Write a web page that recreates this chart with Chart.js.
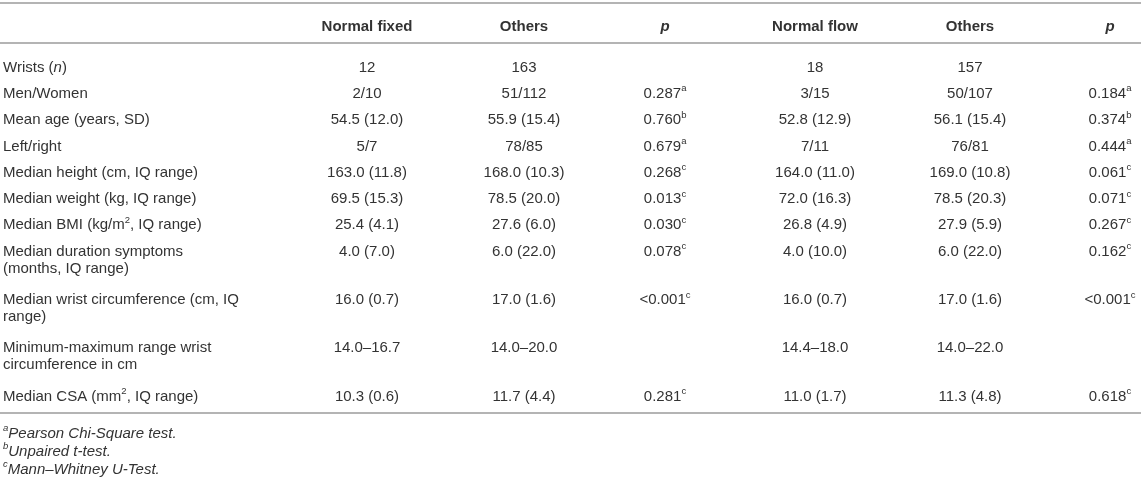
<!DOCTYPE html>
<html>
<head>
<meta charset="utf-8">
<script src="https://cdn.jsdelivr.net/npm/chart.js@4.4.1/dist/chart.umd.min.js"></script>
<style>
    html, body { margin: 0; padding: 0; background: #fff; }
    #wrap { width: 1143px; height: 483px; position: relative; }
</style>
</head>
<body>
<div id="wrap"><canvas id="tableChart"></canvas></div>
<script>
// Table content (^x^ = superscript, *x* = italic)
const columnHeaders = ['Normal fixed', 'Others', '*p*', 'Normal flow', 'Others', '*p*'];

const rowLabels = [
    'Wrists (*n*)',
    'Men/Women',
    'Mean age (years, SD)',
    'Left/right',
    'Median height (cm, IQ range)',
    'Median weight (kg, IQ range)',
    'Median BMI (kg/m^2^, IQ range)',
    'Median duration symptoms\n(months, IQ range)',
    'Median wrist circumference (cm, IQ\nrange)',
    'Minimum-maximum range wrist\ncircumference in cm',
    'Median CSA (mm^2^, IQ range)'
];

const normalFixed = ['12', '2/10', '54.5 (12.0)', '5/7', '163.0 (11.8)', '69.5 (15.3)', '25.4 (4.1)', '4.0 (7.0)', '16.0 (0.7)', '14.0–16.7', '10.3 (0.6)'];
const othersFixed = ['163', '51/112', '55.9 (15.4)', '78/85', '168.0 (10.3)', '78.5 (20.0)', '27.6 (6.0)', '6.0 (22.0)', '17.0 (1.6)', '14.0–20.0', '11.7 (4.4)'];
const pFixed = ['', '0.287^a^', '0.760^b^', '0.679^a^', '0.268^c^', '0.013^c^', '0.030^c^', '0.078^c^', '<0.001^c^', '', '0.281^c^'];
const normalFlow = ['18', '3/15', '52.8 (12.9)', '7/11', '164.0 (11.0)', '72.0 (16.3)', '26.8 (4.9)', '4.0 (10.0)', '16.0 (0.7)', '14.4–18.0', '11.0 (1.7)'];
const othersFlow = ['157', '50/107', '56.1 (15.4)', '76/81', '169.0 (10.8)', '78.5 (20.3)', '27.9 (5.9)', '6.0 (22.0)', '17.0 (1.6)', '14.0–22.0', '11.3 (4.8)'];
const pFlow = ['', '0.184^a^', '0.374^b^', '0.444^a^', '0.061^c^', '0.071^c^', '0.267^c^', '0.162^c^', '<0.001^c^', '', '0.618^c^'];

const footnotes = ['^a^Pearson Chi-Square test.', '^b^Unpaired t-test.', '^c^Mann–Whitney U-Test.'];

// Layout (in scale units, 1 unit = 1 px of the page)
const PAGE_W = 1143;
const PAGE_H = 483;
const LABEL_X = 3;
const COL_CENTERS = [367, 524, 665, 815, 970, 1110];
const HEADER_Y = 25;
const RULES_Y = [3, 43, 413];
const FIRST_ROW_TOP = 53;
const ROW_H = 26.3;
const WRAP_LINE_H = 17;
const WRAP_EXTRA_H = 22;
const FOOT_Y = [432, 450, 468];
const TEXT_DY = 1.5;

const TEXT_COLOR = '#333333';
const RULE_COLOR = '#b4b4b4';
const FONT_SIZE = 15;
const SUP_SIZE = 9.5;
const FONT_FAMILY = '"Liberation Sans", Arial, Helvetica, sans-serif';

const columns = [normalFixed, othersFixed, pFixed, normalFlow, othersFlow, pFlow];

// split "abc^x^ *d*" into styled pieces
function parseRich(text) {
    const parts = text.split(/(\^[^^]*\^|\*[^*]*\*)/).filter(s => s.length);
    return parts.map(s => {
        if (s[0] === '^') return { t: s.slice(1, -1), sup: true, it: false };
        if (s[0] === '*') return { t: s.slice(1, -1), sup: false, it: true };
        return { t: s, sup: false, it: false };
    });
}

function fontFor(seg, bold, italic) {
    const size = seg.sup ? SUP_SIZE : FONT_SIZE;
    return (italic || seg.it ? 'italic ' : '') + (bold ? 'bold ' : '') + size + 'px ' + FONT_FAMILY;
}

function drawRich(ctx, text, px, py, align, bold, italic) {
    const segs = parseRich(text);
    let total = 0;
    segs.forEach(seg => {
        ctx.font = fontFor(seg, bold, italic);
        seg.w = ctx.measureText(seg.t).width;
        total += seg.w;
    });
    let cx = align === 'center' ? px - total / 2 : px;
    segs.forEach(seg => {
        ctx.font = fontFor(seg, bold, italic);
        ctx.fillText(seg.t, cx, (seg.sup ? py - 5 : py) + TEXT_DY);
        cx += seg.w;
    });
}

// row top positions, taller rows for wrapped labels
function rowTops() {
    const tops = [];
    let top = FIRST_ROW_TOP;
    rowLabels.forEach(label => {
        tops.push(top);
        const lines = label.split('\n').length;
        top += ROW_H + (lines - 1) * WRAP_EXTRA_H;
    });
    return tops;
}

const tablePlugin = {
    id: 'tableText',
    afterDraw(chart) {
        const ctx = chart.ctx;
        const xs = chart.scales.x;
        const ys = chart.scales.y;
        ctx.save();

        // horizontal rules
        ctx.strokeStyle = RULE_COLOR;
        ctx.lineWidth = 2;
        RULES_Y.forEach(v => {
            const py = ys.getPixelForValue(v);
            ctx.beginPath();
            ctx.moveTo(xs.getPixelForValue(0), py);
            ctx.lineTo(xs.getPixelForValue(PAGE_W - 2), py);
            ctx.stroke();
        });

        ctx.fillStyle = TEXT_COLOR;
        ctx.textBaseline = 'middle';
        ctx.textAlign = 'left';

        // header
        columnHeaders.forEach((h, i) => {
            drawRich(ctx, h, xs.getPixelForValue(COL_CENTERS[i]), ys.getPixelForValue(HEADER_Y), 'center', true, false);
        });

        // body rows
        const tops = rowTops();
        rowLabels.forEach((label, r) => {
            const firstLine = tops[r] + 13;
            label.split('\n').forEach((line, k) => {
                drawRich(ctx, line, xs.getPixelForValue(LABEL_X), ys.getPixelForValue(firstLine + k * WRAP_LINE_H), 'left', false, false);
            });
            columns.forEach((col, c) => {
                if (!col[r]) return;
                drawRich(ctx, col[r], xs.getPixelForValue(COL_CENTERS[c]), ys.getPixelForValue(firstLine), 'center', false, false);
            });
        });

        // footnotes
        footnotes.forEach((f, i) => {
            drawRich(ctx, f, xs.getPixelForValue(LABEL_X), ys.getPixelForValue(FOOT_Y[i]), 'left', false, true);
        });

        ctx.restore();
    }
};

document.addEventListener('DOMContentLoaded', function() {
    const tableCtx = document.getElementById('tableChart').getContext('2d');
    new Chart(tableCtx, {
        type: 'scatter',
        data: { datasets: [] },
        options: {
            responsive: true,
            maintainAspectRatio: false,
            animation: false,
            layout: { padding: 0 },
            plugins: {
                legend: { display: false },
                tooltip: { enabled: false }
            },
            scales: {
                x: { type: 'linear', min: 0, max: PAGE_W, display: false },
                y: { type: 'linear', min: 0, max: PAGE_H, reverse: true, display: false }
            }
        },
        plugins: [tablePlugin]
    });
});
</script>
</body>
</html>
